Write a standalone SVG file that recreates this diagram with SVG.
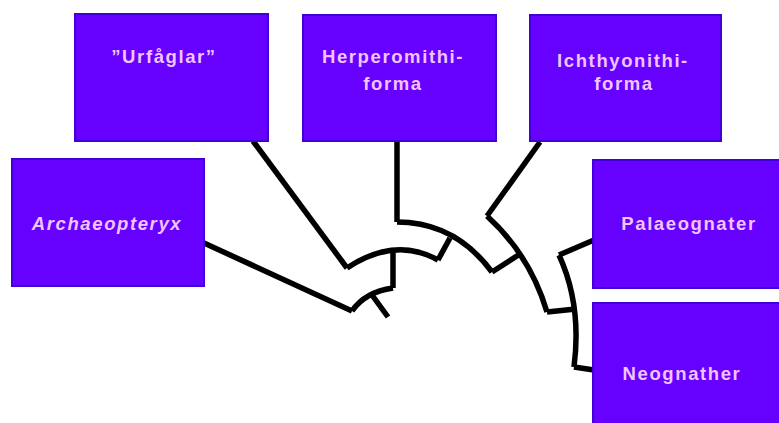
<svg xmlns="http://www.w3.org/2000/svg" width="779" height="423" viewBox="0 0 779 423">
<style>
.box{fill:#6600ff;stroke:#4200d8;stroke-width:2}
.t{font-family:"Liberation Sans",Arial,sans-serif;font-weight:bold;font-size:18.5px;letter-spacing:1.6px;fill:#f2c4ff;text-anchor:middle}
.i{font-style:italic}
.c{fill:none;stroke:#000;stroke-width:5.5;stroke-linejoin:miter;stroke-linecap:butt}
</style>
<rect width="779" height="423" fill="#fff"/>
<g id="connectors">
<path class="c" d="M204,243 L352,311"/>
<path class="c" d="M253,141 L347,268"/>
<path class="c" d="M397,141 L397,222"/>
<path class="c" d="M540,142 L487,216"/>
<path class="c" d="M594,240 L559,255"/>
<path class="c" d="M594,370 L574,367"/>
<path class="c" d="M559,255 Q582,305 574,367"/>
<path class="c" d="M576,309 L547,312"/>
<path class="c" d="M487,216 Q530,255 547,312"/>
<path class="c" d="M520,254 L492,272"/>
<path class="c" d="M397,222 Q455,222 492,272"/>
<path class="c" d="M450,238 L438,260"/>
<path class="c" d="M347,268 Q395,236 438,260"/>
<path class="c" d="M393,253 L393,288"/>
<path class="c" d="M352,311 Q365,292 393,288"/>
<path class="c" d="M372,295 L388,317"/>
</g>
<g id="urfaglar">
<rect class="box" x="75" y="14" width="193" height="127"/>
<text class="t" x="164" y="63">”Urfåglar”</text>
</g>
<g id="herperomithiforma">
<rect class="box" x="303" y="15" width="193" height="126"/>
<text class="t" x="393" y="63">Herperomithi-</text>
<text class="t" x="393" y="90">forma</text>
</g>
<g id="ichthyonithiforma">
<rect class="box" x="530" y="15" width="191" height="126"/>
<text class="t" x="623" y="67">Ichthyonithi-</text>
<text class="t" x="624" y="90">forma</text>
</g>
<g id="archaeopteryx">
<rect class="box" x="12" y="159" width="192" height="127"/>
<text class="t i" x="107" y="230">Archaeopteryx</text>
</g>
<g id="palaeognater">
<rect class="box" x="593" y="160" width="190" height="128"/>
<text class="t" x="689" y="230">Palaeognater</text>
</g>
<g id="neognather">
<rect class="box" x="593" y="303" width="190" height="125"/>
<text class="t" x="682" y="380">Neognather</text>
</g>
</svg>
